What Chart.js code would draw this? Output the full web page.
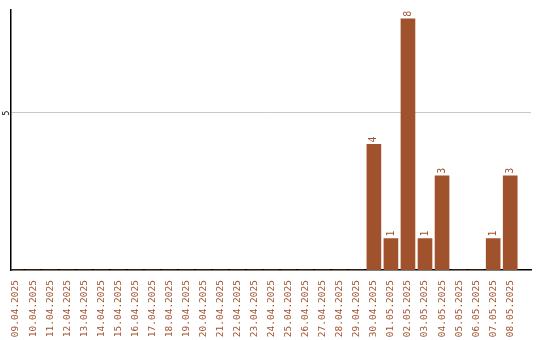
<!DOCTYPE html>
<html>
<head>
<meta charset="utf-8">
<script src="https://cdn.jsdelivr.net/npm/chart.js@4.4.1/dist/chart.umd.min.js"></script>
<style>
  html, body { margin: 0; padding: 0; background: #fff; }
  #wrap { width: 540px; height: 340px; }
</style>
</head>
<body>
<div id="wrap"><canvas id="barChart"></canvas></div>
<script>
// --- data ---
const dates = [
    '09.04.2025', '10.04.2025', '11.04.2025', '12.04.2025', '13.04.2025',
    '14.04.2025', '15.04.2025', '16.04.2025', '17.04.2025', '18.04.2025',
    '19.04.2025', '20.04.2025', '21.04.2025', '22.04.2025', '23.04.2025',
    '24.04.2025', '25.04.2025', '26.04.2025', '27.04.2025', '28.04.2025',
    '29.04.2025', '30.04.2025', '01.05.2025', '02.05.2025', '03.05.2025',
    '04.05.2025', '05.05.2025', '06.05.2025', '07.05.2025', '08.05.2025'
];
const counts = [
    0, 0, 0, 0, 0, 0, 0, 0, 0, 0,
    0, 0, 0, 0, 0, 0, 0, 0, 0, 0,
    0, 4, 1, 8, 1, 3, 0, 0, 1, 3
];
const yTicks = [5];

const brown = '#A0522D';
const monoFont = '"DejaVu Sans Mono", "Liberation Mono", monospace';

// numbers above the bars, rotated like the axis labels
const barValueLabels = {
    id: 'barValueLabels',
    afterDatasetsDraw(chart) {
        const ctx = chart.ctx;
        const meta = chart.getDatasetMeta(0);
        ctx.save();
        ctx.fillStyle = brown;
        ctx.font = '10px ' + monoFont;
        ctx.textAlign = 'left';
        ctx.textBaseline = 'middle';
        meta.data.forEach((bar, i) => {
            const v = counts[i];
            if (!v) return;
            ctx.save();
            ctx.translate(bar.x, bar.y - 2);
            ctx.rotate(-Math.PI / 2);
            ctx.fillText(String(v), 0, 0);
            ctx.restore();
        });
        ctx.restore();
    }
};

new Chart(document.getElementById('barChart').getContext('2d'), {
    type: 'bar',
    data: {
        datasets: [{
            data: counts.map((v, i) => ({ x: i, y: v })),
            backgroundColor: brown,
            borderWidth: 0,
            barThickness: 14
        }]
    },
    options: {
        responsive: true,
        maintainAspectRatio: false,
        animation: false,
        layout: { padding: { top: 10, right: 9, left: 0, bottom: 0 } },
        scales: {
            x: {
                type: 'linear',
                offset: false,
                min: -0.293,
                max: 30.22,
                grid: { display: false },
                border: { display: true, color: '#000', width: 1.5 },
                afterBuildTicks: (scale) => {
                    scale.ticks = dates.map((d, i) => ({ value: i }));
                },
                afterFit: (scale) => {
                    scale.height = 70;
                    scale.paddingLeft = 0;
                    scale.paddingRight = 0;
                },
                ticks: {
                    autoSkip: false,
                    minRotation: 90,
                    maxRotation: 90,
                    padding: 2,
                    color: brown,
                    font: { family: monoFont, size: 9.5 },
                    callback: (value) => dates[value] || ''
                }
            },
            y: {
                min: 0,
                max: 8.28,
                grid: { color: '#c8c8c8', lineWidth: 1, drawTicks: false },
                border: { display: true, color: '#000', width: 1.5 },
                afterBuildTicks: (scale) => {
                    scale.ticks = yTicks.map(v => ({ value: v }));
                },
                afterFit: (scale) => { scale.width = 11; },
                ticks: {
                    minRotation: 90,
                    maxRotation: 90,
                    crossAlign: 'center',
                    padding: 2,
                    color: '#000',
                    font: { family: monoFont, size: 8 }
                }
            }
        },
        plugins: {
            legend: { display: false },
            tooltip: { enabled: false }
        }
    },
    plugins: [barValueLabels]
});
</script>
</body>
</html>
